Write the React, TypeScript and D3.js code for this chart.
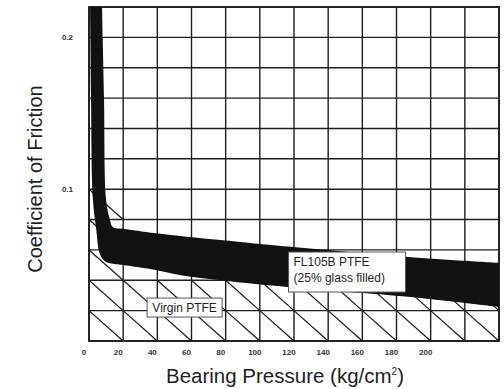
import React from 'react';
import * as d3 from 'd3';

// band for FL105B PTFE (pressure kg/cm2, coefficient)
const upperEdge: [number, number][] = [
  [7.4, 0.235], [8.0, 0.2], [8.8, 0.159], [10, 0.093], [12, 0.081], [14, 0.075],
  [20, 0.074], [39, 0.071], [77, 0.0665], [118, 0.062], [187, 0.0553], [240, 0.0514],
];
const lowerEdge: [number, number][] = [
  [0.5, 0.235], [0.8, 0.2], [1.2, 0.159], [2.3, 0.093], [4.3, 0.073], [5.9, 0.059],
  [8, 0.054], [11, 0.0515], [20, 0.05], [39, 0.0468], [53, 0.0435], [77, 0.04],
  [116, 0.0356], [188, 0.029], [240, 0.0224],
];

// top of the hatched "Virgin PTFE" cells for each 20 kg/cm2 column
const virginTop = [0.1, 0.04, 0.04, 0.04, 0.04, 0.04, 0.04, 0.04, 0.04, 0.04, 0.04, 0.04];

const xTicks = [0, 20, 40, 60, 80, 100, 120, 140, 160, 180, 200];
const yTicks = [0.1, 0.2];
const xGrid = d3.range(0, 241, 20);
const yGrid = d3.range(0, 0.2201, 0.02);

function App() {
  const width = 504;
  const height = 389;
  const margin = { top: 7, right: 5, bottom: 48, left: 89 };

  const x = d3.scaleLinear().domain([0, 240]).range([margin.left, width - margin.right]);
  const y = d3.scaleLinear().domain([0, 0.22]).range([height - margin.bottom, margin.top]);

  const edge = d3.line<[number, number]>()
    .x(d => x(d[0]))
    .y(d => y(d[1]))
    .curve(d3.curveCatmullRom.alpha(0.5));
  const bandPath = edge(upperEdge) + 'L' + edge(lowerEdge.slice().reverse())!.slice(1) + 'Z';

  // diagonal in every hatched cell
  const hatch: { x1: number; y1: number; x2: number; y2: number }[] = [];
  virginTop.forEach((top, i) => {
    for (let v = 0; v < top - 0.001; v += 0.02) {
      hatch.push({ x1: x(i * 20), y1: y(v + 0.02), x2: x(i * 20 + 20), y2: y(v) });
    }
  });

  const ink = '#1e1e1e';

  return (
    <svg width={width} height={height} style={{ position: 'absolute', left: 0, top: 0, background: '#fff' }}
      fontFamily="'Liberation Sans', Arial, sans-serif">
      <defs>
        <clipPath id="plot">
          <rect x={x(0)} y={y(0.22)} width={x(240) - x(0)} height={y(0) - y(0.22)} />
        </clipPath>
      </defs>

      {hatch.map((h, i) => (
        <line key={'h' + i} {...h} stroke={ink} strokeWidth={1.3} />
      ))}

      {xGrid.map(v => (
        <line key={'gx' + v} x1={x(v)} x2={x(v)} y1={y(0)} y2={y(0.22)} stroke={ink} strokeWidth={1.4} />
      ))}
      {yGrid.map(v => (
        <line key={'gy' + v} x1={x(0)} x2={x(240)} y1={y(v)} y2={y(v)} stroke={ink} strokeWidth={1.4} />
      ))}
      <rect x={x(0)} y={y(0.22)} width={x(240) - x(0)} height={y(0) - y(0.22)}
        fill="none" stroke={ink} strokeWidth={1.8} />

      <path d={bandPath} fill="#111" clipPath="url(#plot)" />

      <g>
        <rect x={x(116.8)} y={y(0.0586)} width={117} height={40} fill="#fff" stroke="#555" strokeWidth={1} />
        <text x={x(116.8) + 5} y={y(0.0586) + 14} fontSize={12} fill={ink}>FL105B PTFE</text>
        <text x={x(116.8) + 5} y={y(0.0586) + 30} fontSize={12} fill={ink}>(25% glass filled)</text>
      </g>
      <g>
        <rect x={x(34)} y={y(0.0283)} width={75} height={19} fill="#fff" stroke="#555" strokeWidth={1} />
        <text x={x(34) + 37.5} y={y(0.0283) + 14} fontSize={12} fill={ink} textAnchor="middle">Virgin PTFE</text>
      </g>

      {xTicks.map(v => (
        <text key={'tx' + v} x={x(v) - 5} y={y(0) + 14} fontSize={8} fontWeight="bold"
          textAnchor="middle" fill="#333">{v}</text>
      ))}
      {yTicks.map(v => (
        <text key={'ty' + v} x={73} y={y(v) + 3} fontSize={8} fontWeight="bold"
          textAnchor="end" fill="#333">{v}</text>
      ))}

      <text x={285} y={383} fontSize={20.5} textAnchor="middle" fill={ink}>
        Bearing Pressure (kg/cm<tspan fontSize={10} dy={-8}>2</tspan><tspan dy={8}>)</tspan>
      </text>
      <text transform="translate(42,179) rotate(-90)" fontSize={20} textAnchor="middle" fill={ink}>
        Coefficient of Friction
      </text>
    </svg>
  );
}

export default App;
